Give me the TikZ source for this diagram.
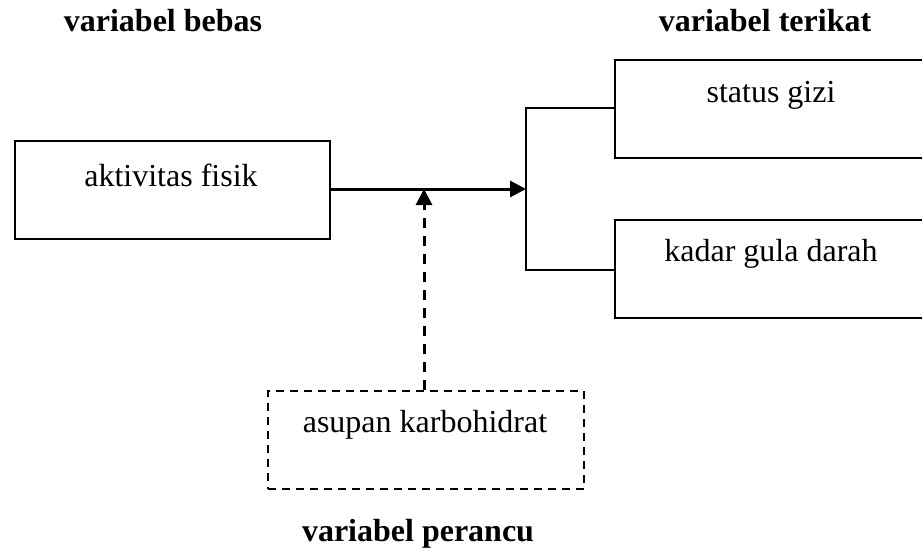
\documentclass[tikz,border=0pt]{standalone}
\usepackage{fontspec}
\setmainfont{Liberation Serif}
\usetikzlibrary{arrows.meta}
\begin{document}
\begin{tikzpicture}[x=0.5pt,y=-0.5pt,
  every node/.style={font=\fontsize{16}{19}\selectfont, inner sep=0pt},
  txt/.style={anchor=base},
  head/.style={anchor=base, font=\fontsize{16}{19}\selectfont\bfseries},
  solidbox/.style={draw, line width=1.2pt, anchor=north west, minimum width=157.5pt, minimum height=49pt},
  dashbox/.style={draw, line width=1pt, dash pattern=on 4pt off 3pt, anchor=north west, minimum width=158pt, minimum height=49pt},
  conn/.style={line width=1.5pt},
  tip/.style={-{Triangle[length=8pt,width=8pt]}}
]
\useasboundingbox (0,0) rectangle (922,558);
% boxes
\node[solidbox] (akt) at (14,140) {};
\node[solidbox] (gizi) at (614,59) {};
\node[solidbox] (gula) at (614,219) {};
\node[dashbox] (asup) at (267,390) {};
% texts
\node[txt] (aktt) at (171,186) {aktivitas fisik};
\node[txt] (gizit) at (771,102) {status gizi};
\node[txt] (gulat) at (771,261) {kadar gula darah};
\node[txt] (asupt) at (425,432) {asupan karbohidrat};
\node[head] (hbebas) at (163,31) {variabel bebas};
\node[head] (hterikat) at (765,31) {variabel terikat};
\node[head] (hperancu) at (418,541) {variabel perancu};
% connectors
\coordinate (junc) at (526,189);
\coordinate (mid) at (424,189);
\draw[conn,tip] (akt.east |- junc) -- (junc);
\draw[line width=1.2pt] (gizi.north west |- 0,108) -| (junc) |- (gula.north west |- 0,270);
\draw[conn,tip,dash pattern=on 5pt off 4pt] (asup.north -| mid) -- (mid);
\end{tikzpicture}
\end{document}
